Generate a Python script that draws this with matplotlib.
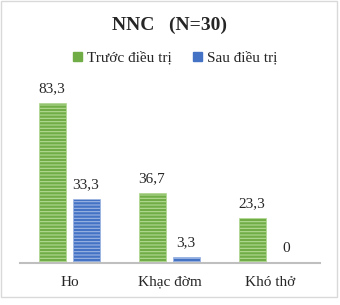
import matplotlib.pyplot as plt
import numpy as np
from matplotlib.patches import Rectangle, Patch

categories = ['Ho', 'Khạc đờm', 'Khó thở']
truoc = [83.3, 36.7, 23.3]
sau = [33.3, 3.3, 0]
labels = ['Trước điều trị', 'Sau điều trị']

plt.rcParams['font.family'] = ['Liberation Serif', 'DejaVu Serif']
plt.rcParams['hatch.linewidth'] = 0.8

fig = plt.figure(figsize=(3.4, 3.05), dpi=100)
W, H = 340, 305
ax = fig.add_axes([20 / W, 1 - 263 / H, 300 / W, 192 / H])

x = np.arange(len(categories))
w = 0.27
b1 = ax.bar(x - 0.18, truoc, w, color='#70AD47', edgecolor='#B4D993',
            hatch='-----', linewidth=0.5)
b2 = ax.bar(x + 0.16, sau, w, color='#4472C4', edgecolor='#9DB5E3',
            hatch='-----', linewidth=0.5)

for bars in (b1, b2):
    for r in bars:
        v = r.get_height()
        txt = ('%.1f' % v).replace('.', ',') if v != 0 else '0'
        ax.text(r.get_x() + r.get_width() / 2, v + 4, txt, ha='center',
                va='bottom', fontsize=11, color='#262626')

ax.set_xlim(-0.5, 2.5)
ax.set_ylim(0, 100)
ax.set_yticks([])
ax.set_xticks(x)
ax.set_xticklabels(categories, fontsize=11, color='#262626')
ax.tick_params(axis='x', length=0, pad=9)
for s in ['top', 'right', 'left']:
    ax.spines[s].set_visible(False)
ax.spines['bottom'].set_color('#BFBFBF')
ax.spines['bottom'].set_linewidth(1.5)

fig.text(0.5, 1 - 25 / H, 'NNC   (N=30)', ha='center', va='center',
         fontsize=14, fontweight='bold', color='#262626')
handles = [Patch(color='#70AD47'), Patch(color='#4472C4')]
fig.legend(handles=handles, labels=labels, loc='center',
           bbox_to_anchor=(0.515, 1 - 58 / H), ncol=2, frameon=False,
           fontsize=11, handlelength=0.6, handleheight=0.6,
           handletextpad=0.3, columnspacing=1.4, labelcolor='#262626')

fig.patches.append(Rectangle((1 / W, 8 / H), 336 / W, 296 / H,
                             transform=fig.transFigure, fill=False,
                             edgecolor='#D9D9D9', linewidth=1))

fig.savefig('out.png', dpi=100)
